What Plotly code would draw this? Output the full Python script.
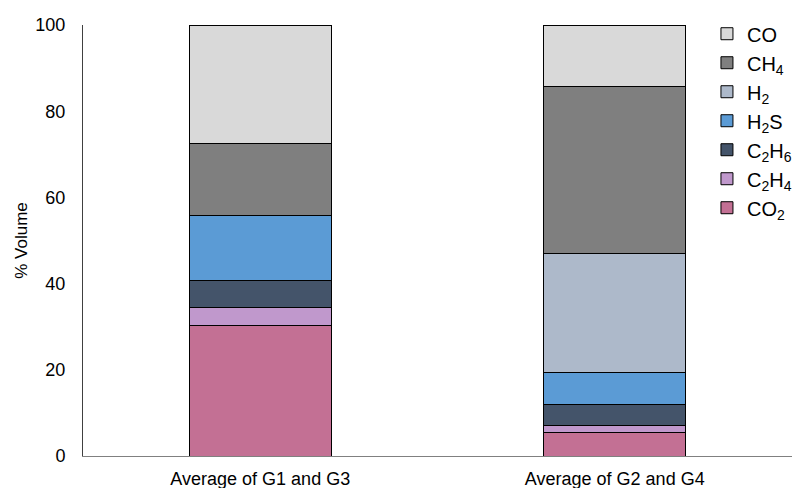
import plotly.graph_objects as go

categories = ["Average of G1 and G3", "Average of G2 and G4"]
series_names = ["CO<sub>2</sub>", "C<sub>2</sub>H<sub>4</sub>", "C<sub>2</sub>H<sub>6</sub>",
                "H<sub>2</sub>S", "H<sub>2</sub>", "CH<sub>4</sub>", "CO"]
co2 = [30.2, 5.4]
c2h4 = [4.3, 1.7]
c2h6 = [6.3, 4.9]
h2s = [14.9, 7.3]
h2 = [0.0, 27.6]
ch4 = [16.9, 38.8]
co = [27.4, 14.3]
values = [co2, c2h4, c2h6, h2s, h2, ch4, co]
colors = ["#c37094", "#c098cc", "#44546a", "#5b9bd5", "#adb9ca", "#7f7f7f", "#d9d9d9"]

fig = go.Figure()
for name, vals, col in zip(series_names, values, colors):
    fig.add_trace(go.Bar(x=categories, y=vals, name=name, width=0.4,
                         marker=dict(color=col, line=dict(color="black", width=1))))

fig.update_layout(
    barmode="stack",
    width=798, height=488,
    margin=dict(l=83, r=6, t=25, b=32, autoexpand=False),
    paper_bgcolor="white", plot_bgcolor="white",
    font=dict(family="Liberation Sans, Arial, sans-serif", color="#000000"),
    showlegend=True,
    legend=dict(x=1.007, y=1.025, xanchor="right", yanchor="top",
                traceorder="reversed", font=dict(size=20),
                bgcolor="rgba(0,0,0,0)", tracegroupgap=0, itemwidth=30),
    xaxis=dict(range=[-0.5, 1.5], showline=True, linecolor="#808080", linewidth=1,
               ticks="", tickfont=dict(size=18), showgrid=False, ticklabelstandoff=6),
    yaxis=dict(range=[0, 100], tickvals=[0, 20, 40, 60, 80, 100], showline=True,
               linecolor="#404040", linewidth=1, ticks="", showgrid=False,
               zeroline=False, tickfont=dict(size=18), ticklabelstandoff=13,
               title=dict(text="% Volume", font=dict(size=17), standoff=3)),
)
fig.write_html("out.html")
